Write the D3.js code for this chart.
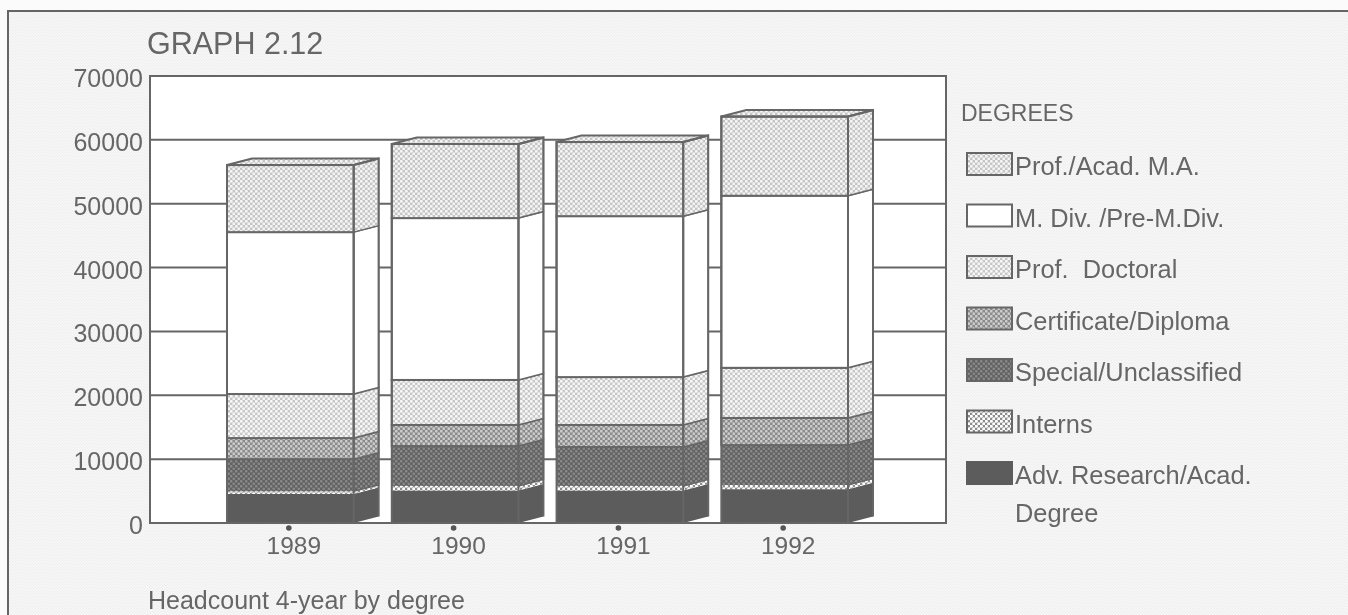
<!DOCTYPE html>
<html><head><meta charset="utf-8">
<script src="https://cdnjs.cloudflare.com/ajax/libs/d3/7.8.5/d3.min.js"></script>
<style>html,body{margin:0;padding:0;background:#fbfbfb;overflow:hidden}svg{display:block}text{font-family:"Liberation Sans",Arial,sans-serif;fill:#666;white-space:pre}</style>
</head><body><svg id="c" width="1348" height="615"></svg>
<script>
const years = ["1989","1990","1991","1992"];
const yTicks = [0,10000,20000,30000,40000,50000,60000,70000];
const advResearch = [4550,5100,5100,5300];
const interns = [400,700,700,650];
const special = [5050,6250,6100,6250];
const certificate = [3300,3300,3450,4250];
const profDoctoral = [6900,7050,7500,7850];
const mDiv = [25350,25350,25200,26950];
const profMA = [10500,11600,11600,12400];
const legendLabels = ["Prof./Acad. M.A.","M. Div. /Pre-M.Div.","Prof.  Doctoral","Certificate/Diploma","Special/Unclassified","Interns","Adv. Research/Acad."];
const legendExtra = "Degree";
const seriesKeys = ["adv","interns","special","cert","doc","mdiv","ma"];
const seriesValues = [advResearch,interns,special,certificate,profDoctoral,mDiv,profMA];
const title = "GRAPH 2.12", legendTitle = "DEGREES", caption = "Headcount 4-year by degree";

const ink = "#666";
const svg = d3.select("#c");
const defs = svg.append("defs");
// halftone patterns: [base, dot colour, period, dot radius]
const halftones = {
  bg:[ "#f8f8f8","#eeeeee",3,0.8 ],
  ma:[ "#c4c4c4","#f4f4f4",5,1.5 ],
  doc:[ "#c6c6c6","#f6f6f6",5,1.5 ],
  cert:[ "#8a8a8a","#cccccc",5,1.4 ],
  special:[ "#626262","#8a8a8a",5,1.3 ],
  interns:[ "#8c8c8c","#ffffff",5,1.6 ]
};
Object.entries(halftones).forEach(([k,[base,dot,p,r]])=>{
  const pat = defs.append("pattern").attr("id","p-"+k).attr("patternUnits","userSpaceOnUse").attr("width",p).attr("height",p);
  pat.append("rect").attr("width",p).attr("height",p).attr("fill",base);
  pat.append("circle").attr("cx",p/4).attr("cy",p/4).attr("r",r).attr("fill",dot);
  pat.append("circle").attr("cx",3*p/4).attr("cy",3*p/4).attr("r",r).attr("fill",dot);
});
const fills = {ma:"url(#p-ma)",mdiv:"#fff",doc:"url(#p-doc)",cert:"url(#p-cert)",special:"url(#p-special)",interns:"url(#p-interns)",adv:"#5c5c5c"};
defs.append("filter").attr("id","soft").attr("x","-2%").attr("y","-2%").attr("width","104%").attr("height","104%")
  .append("feGaussianBlur").attr("stdDeviation",0.45);

const root = svg.append("g").attr("filter","url(#soft)");
const plot = {l:150,r:946,t:76,b:523};
const y = d3.scaleLinear().domain([0,70000]).range([plot.b,plot.t]);
const x = d3.scaleBand().domain(years).range([227,848]).paddingInner(0.2313).paddingOuter(0);
const depthX = 25, depthY = 6.5;

// outer frame
root.append("rect").attr("x",8).attr("y",11).attr("width",1360).attr("height",630)
  .attr("fill","url(#p-bg)").attr("stroke",ink).attr("stroke-width",2);
// plot background
root.append("rect").attr("x",plot.l).attr("y",plot.t).attr("width",plot.r-plot.l).attr("height",plot.b-plot.t).attr("fill","#fff");

// y axis with gridlines
const yAxis = root.append("g").attr("transform",`translate(${plot.l},0)`)
  .call(d3.axisLeft(y).tickValues(yTicks).tickFormat(d3.format("d")).tickSize(0).tickPadding(7));
yAxis.select(".domain").remove();
yAxis.selectAll("text").attr("font-size",25).attr("dy","0.42em").style("font-family",'"Liberation Sans",Arial,sans-serif').attr("fill",ink);
root.append("g").selectAll("line").data(yTicks.filter(d=>d>0&&d<70000)).join("line")
  .attr("x1",plot.l).attr("x2",plot.r).attr("y1",d=>y(d)).attr("y2",d=>y(d)).attr("stroke",ink).attr("stroke-width",2);

// stacked 3D bars
const rows = years.map((yr,i)=>{const o={year:yr};seriesKeys.forEach((k,s)=>o[k]=seriesValues[s][i]);return o;});
const stacked = d3.stack().keys(seriesKeys)(rows);
const barG = root.append("g");
stacked.forEach(layer=>{
  const k = layer.key;
  const g = barG.append("g").attr("class","layer-"+k);
  g.selectAll("path.side").data(layer).join("path").attr("class","side")
    .attr("d",d=>{const X=x(d.data.year)+x.bandwidth(),a=y(d[0]),b=y(d[1]);
      return `M${X},${a}L${X+depthX},${a-depthY}L${X+depthX},${b-depthY}L${X},${b}Z`;})
    .attr("fill",fills[k]).attr("stroke",k==="interns"||k==="adv"?"none":ink).attr("stroke-width",1.5);
  g.selectAll("rect.front").data(layer).join("rect").attr("class","front")
    .attr("x",d=>x(d.data.year)).attr("width",x.bandwidth())
    .attr("y",d=>y(d[1])).attr("height",d=>y(d[0])-y(d[1]))
    .attr("fill",fills[k]).attr("stroke",(k==="interns"||k==="adv"||k==="special")?"none":ink).attr("stroke-width",2);
});
// outlines and top faces
const topLayer = stacked[stacked.length-1];
barG.append("g").selectAll("path").data(topLayer).join("path")
  .attr("d",d=>{const X=x(d.data.year),W=x.bandwidth(),b=y(d[1]);
    return `M${X},${b}L${X+depthX},${b-depthY}L${X+W+depthX},${b-depthY}L${X+W},${b}Z`;})
  .attr("fill",fills.ma).attr("stroke",ink).attr("stroke-width",2);
barG.append("g").selectAll("path").data(topLayer).join("path")
  .attr("d",d=>{const X=x(d.data.year),W=x.bandwidth(),b=y(d[1]),o=y(0);
    return `M${X},${o}V${b}H${X+W}V${o}M${X+W},${b}L${X+W+depthX},${b-depthY}V${o-depthY}`;})
  .attr("fill","none").attr("stroke",ink).attr("stroke-width",2);

// plot frame
root.append("path").attr("d",`M${plot.l},${plot.t}H${plot.r}V${plot.b}H${plot.l}Z`).attr("fill","none").attr("stroke",ink).attr("stroke-width",2);

// x ticks and labels
const xc = d=>x(d)+x.bandwidth()/2-1.5;
root.append("g").selectAll("circle").data(years).join("circle").attr("cx",xc).attr("cy",528).attr("r",2.8).attr("fill","#555");
root.append("g").selectAll("text").data(years).join("text").attr("x",d=>xc(d)+5).attr("y",553.5).attr("text-anchor","middle").attr("font-size",24.5).text(d=>d);

// titles
root.append("text").attr("x",147).attr("y",54).attr("font-size",30.5).text(title);
root.append("text").attr("x",148).attr("y",609).attr("font-size",25).text(caption);
root.append("text").attr("x",961).attr("y",121).attr("font-size",23).text(legendTitle);

// legend
const legendKeys = seriesKeys.slice().reverse();
const rowY = d3.scaleLinear().domain([0,6]).range([153,462]);
const lg = root.append("g").selectAll("g").data(legendLabels).join("g");
lg.append("rect").attr("x",967).attr("y",(d,i)=>rowY(i)).attr("width",45).attr("height",22)
  .attr("fill",(d,i)=>fills[legendKeys[i]]).attr("stroke",(d,i)=>legendKeys[i]==="adv"?"#5c5c5c":ink).attr("stroke-width",2);
lg.append("text").attr("x",1015).attr("y",(d,i)=>rowY(i)+22).attr("font-size",25.4).text(d=>d);
root.append("text").attr("x",1015).attr("y",rowY(6)+60).attr("font-size",25.4).text(legendExtra);
</script></body></html>
